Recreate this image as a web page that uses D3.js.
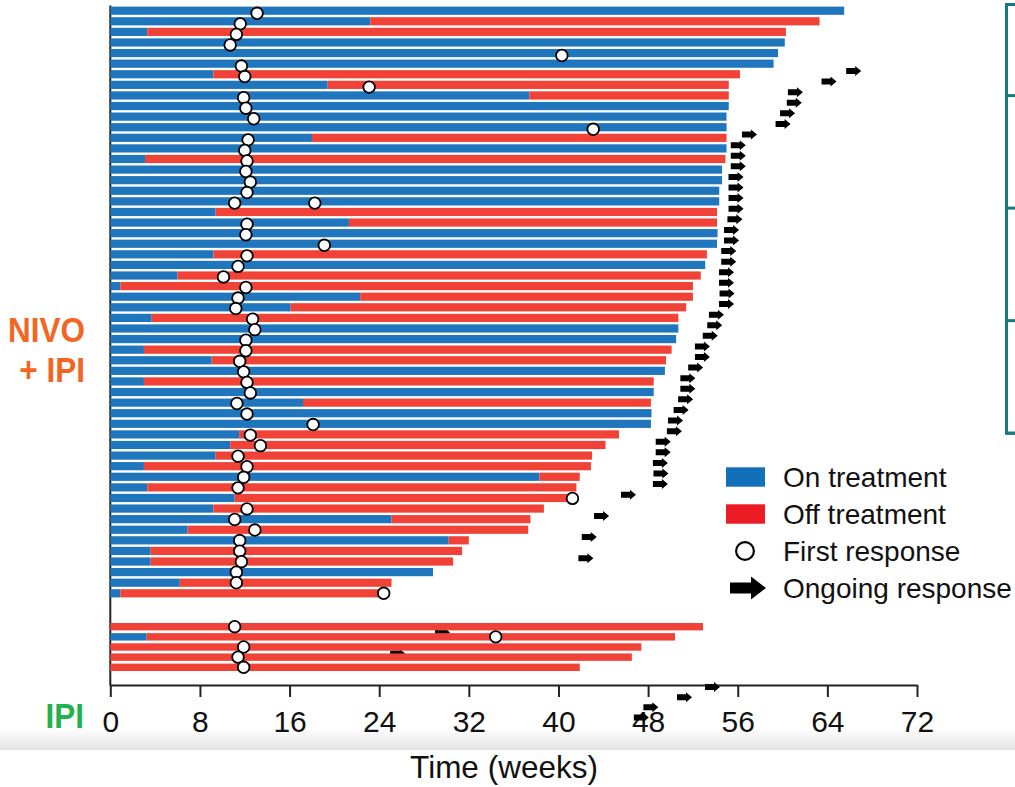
<!DOCTYPE html>
<html>
<head>
<meta charset="utf-8">
<script src="https://cdn.jsdelivr.net/npm/d3@7/dist/d3.min.js"></script>
<style>
  body { margin: 0; background: #fff; }
  svg { display: block; font-family: "Liberation Sans", Arial, sans-serif; }
</style>
</head>
<body>
<div id="chart"></div>
<script>
// NIVO + IPI patients, top to bottom. Weeks on treatment / total follow-up.
const nivoOnTreatment = [65.5, 23.2, 3.3, 60.2, 59.6, 59.2, 9.2, 19.4, 37.4, 55.2,
  55.0, 55.0, 18.0, 55.0, 3.1, 54.6, 54.6, 54.35, 54.35, 9.4,
  21.3, 54.2, 54.15, 9.2, 53.1, 6.0, 0.9, 22.3, 16.1, 3.7,
  50.7, 50.5, 3.0, 9.05, 49.5, 3.0, 48.5, 17.2, 48.3, 48.25,
  11.5, 10.7, 9.4, 3.0, 38.3, 3.3, 11.1, 9.2, 25.1, 6.9,
  30.2, 3.6, 3.6, 28.8, 6.2, 0.9];
const nivoTotal = [65.5, 63.3, 60.3, 60.2, 59.6, 59.2, 56.2, 55.2, 55.2, 55.2,
  55.0, 55.0, 55.0, 55.0, 54.9, 54.6, 54.6, 54.35, 54.35, 54.15,
  54.15, 54.2, 54.15, 53.25, 53.1, 52.7, 52.0, 52.0, 51.4, 50.7,
  50.7, 50.5, 50.1, 49.6, 49.5, 48.5, 48.5, 48.25, 48.3, 48.25,
  45.4, 44.2, 43.0, 42.9, 41.9, 41.6, 41.6, 38.7, 37.5, 37.3,
  32.0, 31.4, 30.6, 28.8, 25.1, 24.8];
// [row, week of first response]
const nivoFirstResponse = [[0, 13.1], [1, 11.6], [2, 11.25], [3, 10.7], [4, 40.3],
  [5, 11.7], [6, 12.0], [7, 23.1], [8, 11.9], [9, 12.1], [10, 12.8], [11, 43.1],
  [12, 12.3], [13, 12.0], [14, 12.2], [15, 12.1], [16, 12.5], [17, 12.2],
  [18, 11.1], [18, 18.25], [20, 12.2], [21, 12.1], [22, 19.1], [23, 12.2],
  [24, 11.4], [25, 10.1], [26, 12.1], [27, 11.4], [28, 11.2], [29, 12.7],
  [30, 12.9], [31, 12.1], [32, 12.1], [33, 11.55], [34, 11.9], [35, 12.2],
  [36, 12.5], [37, 11.3], [38, 12.2], [39, 18.1], [40, 12.5], [41, 13.4],
  [42, 11.4], [43, 12.2], [44, 11.9], [45, 11.4], [46, 41.25], [47, 12.2],
  [48, 11.1], [49, 12.9], [50, 11.55], [51, 11.55], [52, 11.7], [53, 11.25],
  [54, 11.25], [55, 24.4]];
// rows with ongoing response
const nivoOngoing = [0, 1, 2, 3, 4, 5, 6, 7, 8, 9, 10, 11, 12, 13, 14, 15, 16, 17, 18, 19,
  20, 21, 22, 23, 24, 25, 26, 27, 28, 29, 30, 31, 32, 33, 34, 35, 36, 37, 38, 39,
  40, 42, 44, 46, 53, 55];

// IPI patients
const ipiOnTreatment = [0, 3.25, 0, 0, 0];
const ipiTotal = [52.9, 50.4, 47.4, 46.55, 41.9];
const ipiFirstResponse = [[0, 11.1], [1, 34.4], [2, 11.9], [3, 11.4], [4, 11.9]];
const ipiOngoing = [0, 1, 2, 3];

const xTicks = [0, 8, 16, 24, 32, 40, 48, 56, 64, 72];
const bracketTicks = [0, 0.85, 1.9, 2.95, 4];
const legendLabels = ['On treatment', 'Off treatment', 'First response', 'Ongoing response'];

const width = 1015;
const height = 787;
const blue = '#1f76bd';
const red = '#f04236';
const arrowShift = 60.3;

let svg = d3.select('#chart')
  .append('svg')
  .attr('width', width)
  .attr('height', height);

// Grey shadow band under the tick labels.
let grad = svg.append('defs').append('linearGradient')
  .attr('id', 'band')
  .attr('x1', 0).attr('y1', 0).attr('x2', 0).attr('y2', 1);
grad.append('stop').attr('offset', '0%').attr('stop-color', '#ffffff');
grad.append('stop').attr('offset', '100%').attr('stop-color', '#e3e3e3');
svg.append('rect')
  .attr('x', 0).attr('y', 728)
  .attr('width', width).attr('height', 22)
  .attr('fill', 'url(#band)');

let x = d3.scaleLinear().domain([0, 72]).range([110.3, 917]);
let nivoY = d3.scalePoint().domain(d3.range(nivoTotal.length)).range([10.7, 593.3]);
let nivoCircleY = d3.scalePoint().domain(d3.range(nivoTotal.length)).range([13.3, 593.3]);
let ipiY = d3.scalePoint().domain(d3.range(ipiTotal.length)).range([626.7, 667.3]);

// Axes.
let xAxis = d3.axisBottom(x)
  .tickValues(xTicks)
  .tickSize(12)
  .tickSizeOuter(0)
  .tickPadding(14);

let gx = svg.append('g')
  .attr('transform', 'translate(0,685)')
  .call(xAxis);
gx.selectAll('path, line').attr('stroke', '#222').attr('stroke-width', 2);
gx.selectAll('text')
  .attr('font-size', 30)
  .attr('font-family', '"Liberation Sans", Arial, sans-serif')
  .attr('fill', '#111');

let yAxis = d3.axisLeft(d3.scaleLinear().domain([0, 1]).range([5, 685]))
  .tickValues([])
  .tickSizeOuter(0);
svg.append('g')
  .attr('transform', `translate(${x(0) - 0.5},0)`)
  .call(yAxis)
  .select('path')
    .attr('stroke', '#222')
    .attr('stroke-width', 2);

svg.append('text')
  .attr('x', 504)
  .attr('y', 778)
  .attr('text-anchor', 'middle')
  .attr('font-size', 31.5)
  .attr('fill', '#111')
  .text('Time (weeks)');

// Teal bracket on the right edge.
let bracket = d3.axisRight(d3.scaleLinear().domain([0, 4]).range([4, 432.7]))
  .tickValues(bracketTicks)
  .tickSize(10)
  .tickSizeOuter(10)
  .tickFormat('');
let gb = svg.append('g')
  .attr('transform', 'translate(1006,0)')
  .call(bracket);
gb.selectAll('path, line').attr('stroke', '#17797e').attr('stroke-width', 3);

// Arrow marks.
let arrowPath = (len, head, shaft, headH) =>
  `M0,${-shaft}H${len - head}V${-headH}L${len},0L${len - head},${headH}V${shaft}H0Z`;

let drawArrows = (rows, total, yScale) => {
  svg.append('g')
    .selectAll('path')
    .data(rows)
    .enter()
    .append('path')
      .attr('d', arrowPath(15, 6, 3, 5))
      .attr('transform', d => `translate(${x(total[d]) + 2},${yScale(d) + arrowShift})`)
      .attr('fill', '#000');
};
drawArrows(nivoOngoing, nivoTotal, nivoY);
drawArrows(ipiOngoing, ipiTotal, ipiY);

// Swimmer bars.
let drawBars = (onT, total, yScale, barH) => {
  let g = svg.append('g');
  let rows = d3.range(total.length);
  g.selectAll('rect.on')
    .data(rows.filter(d => onT[d] > 0))
    .enter()
    .append('rect')
      .attr('class', 'on')
      .attr('x', x(0))
      .attr('y', d => yScale(d) - barH / 2)
      .attr('width', d => x(onT[d]) - x(0))
      .attr('height', barH)
      .attr('fill', blue);
  g.selectAll('rect.off')
    .data(rows.filter(d => total[d] > onT[d]))
    .enter()
    .append('rect')
      .attr('class', 'off')
      .attr('x', d => x(onT[d]))
      .attr('y', d => yScale(d) - barH / 2)
      .attr('width', d => x(total[d]) - x(onT[d]))
      .attr('height', barH)
      .attr('fill', red);
};
drawBars(nivoOnTreatment, nivoTotal, nivoY, 8.2);
drawBars(ipiOnTreatment, ipiTotal, ipiY, 7.4);

// First response circles.
let drawCircles = (data, yScale) => {
  svg.append('g')
    .selectAll('circle')
    .data(data)
    .enter()
    .append('circle')
      .attr('cx', d => x(d[1]))
      .attr('cy', d => yScale(d[0]))
      .attr('r', 5.8)
      .attr('fill', '#fff')
      .attr('stroke', '#000')
      .attr('stroke-width', 1.8);
};
drawCircles(nivoFirstResponse, nivoCircleY);
drawCircles(ipiFirstResponse, ipiY);

// Legend.
let legend = svg.append('g');
let legendY = d3.scalePoint().domain(legendLabels).range([477, 588]);
legend.append('rect')
  .attr('x', 726).attr('y', legendY(legendLabels[0]) - 9.7)
  .attr('width', 39).attr('height', 19.4)
  .attr('fill', '#1170b9');
legend.append('rect')
  .attr('x', 726).attr('y', legendY(legendLabels[1]) - 9.7)
  .attr('width', 39).attr('height', 19.4)
  .attr('fill', '#ec1c24');
legend.append('circle')
  .attr('cx', 745).attr('cy', legendY(legendLabels[2]))
  .attr('r', 8.9)
  .attr('fill', '#fff')
  .attr('stroke', '#000')
  .attr('stroke-width', 2.2);
legend.append('path')
  .attr('d', arrowPath(36, 15, 5.5, 11.5))
  .attr('transform', `translate(730,${legendY(legendLabels[3])})`)
  .attr('fill', '#000');
legend.selectAll('text')
  .data(legendLabels)
  .enter()
  .append('text')
    .attr('x', 783)
    .attr('y', d => legendY(d) + 10)
    .attr('font-size', 28)
    .attr('fill', '#111')
    .text(d => d);

// Group labels.
let nivoLabel = svg.append('text')
  .attr('transform', 'translate(85,0) scale(1,1.1)')
  .attr('text-anchor', 'end')
  .attr('font-size', 31.5)
  .attr('font-weight', 'bold')
  .attr('fill', '#f26522');
nivoLabel.append('tspan').attr('x', 0).attr('y', 342 / 1.1).text('NIVO');
nivoLabel.append('tspan').attr('x', 0).attr('y', 382 / 1.1).text('+ IPI');

svg.append('text')
  .attr('transform', 'translate(84,0) scale(1,1.1)')
  .attr('x', 0)
  .attr('y', 728 / 1.1)
  .attr('text-anchor', 'end')
  .attr('font-size', 31.5)
  .attr('font-weight', 'bold')
  .attr('fill', '#22b14c')
  .text('IPI');
</script>
</body>
</html>
